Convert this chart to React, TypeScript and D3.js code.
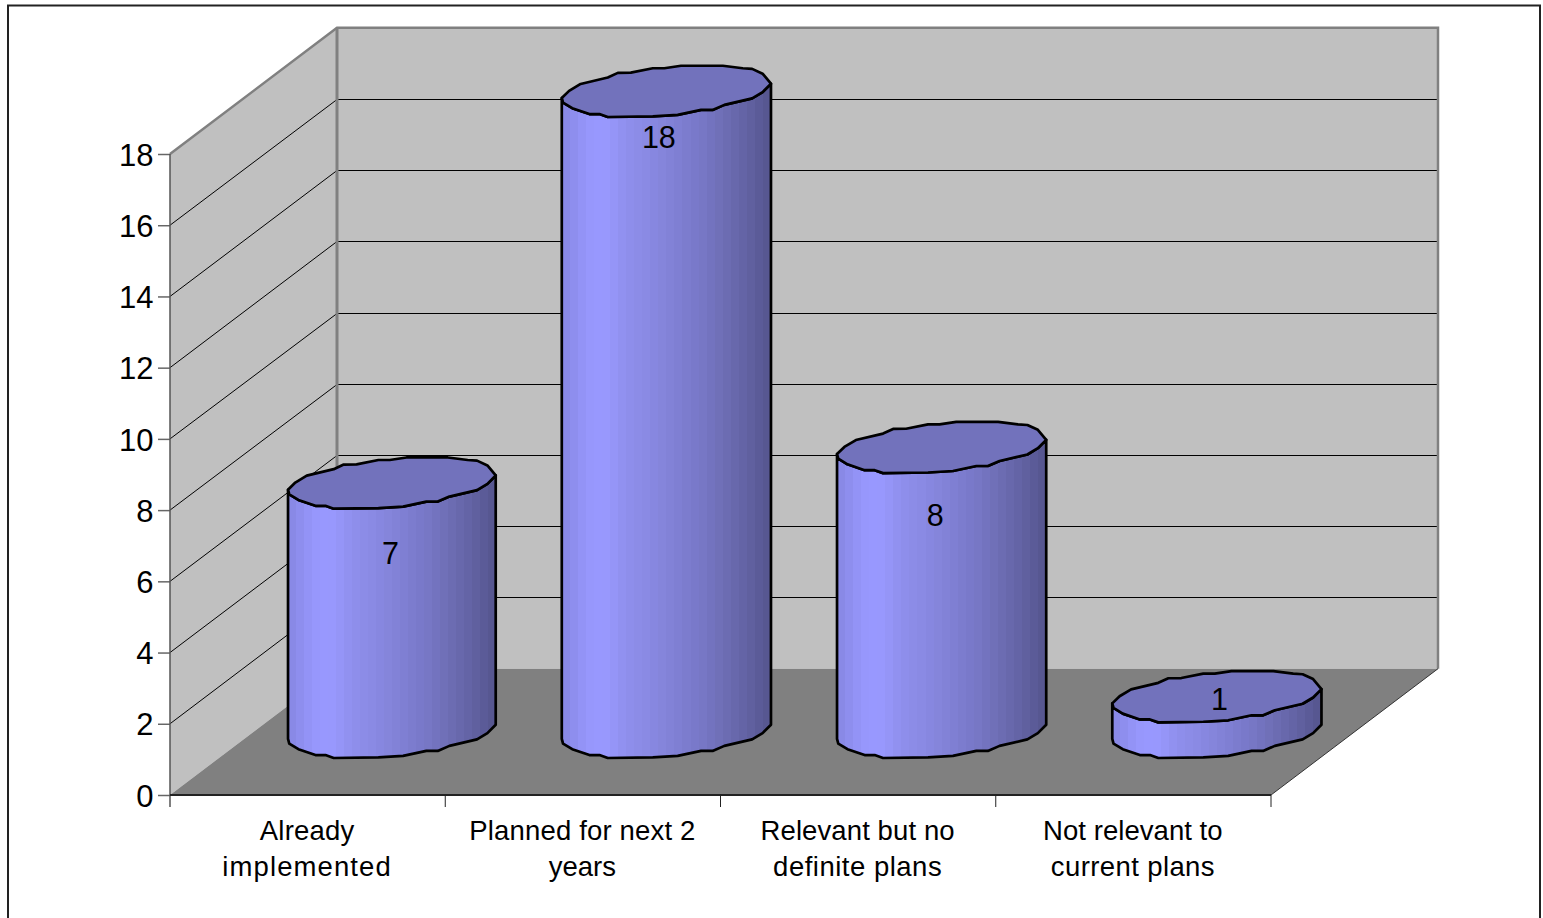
import React, { useRef, useEffect } from 'react';
import * as d3 from 'd3';

const categories = ['Already implemented', 'Planned for next 2 years', 'Relevant but no definite plans', 'Not relevant to current plans'];
const categoryLines = [
  ['Already', 'implemented'],
  ['Planned for next 2', 'years'],
  ['Relevant but no', 'definite plans'],
  ['Not relevant to', 'current plans'],
];
// the source renderer spaces some lines wider than others
const categorySpacing = [
  [0.2, 1.1],
  [0.17, 0],
  [0.1, 0.5],
  [0.05, 0.4],
];
const values = [7, 18, 8, 1];
const yTicks = [0, 2, 4, 6, 8, 10, 12, 14, 16, 18];

// where the data labels sit, relative to the middle of the bar top
const labelDx = [-1.5, -7.5, -6.5, 2.5];
const labelDy = [81, 57, 79, 14];
const barDx = [1.5, 0, 0, 0];

// outline of the bar top, in units of bar width
const rimUpper: [number, number][] = [
  [0, 0.034], [0.035, 0], [0.09, -0.033], [0.22, -0.064], [0.268, -0.086], [0.33, -0.087],
  [0.435, -0.108], [0.49, -0.108], [0.57, -0.12], [0.77, -0.12], [0.865, -0.108], [0.91, -0.105],
  [0.96, -0.082], [1, -0.034],
];
const rimLower: [number, number][] = [
  [1, -0.034], [0.96, 0.006], [0.91, 0.036], [0.777, 0.067], [0.721, 0.091], [0.666, 0.091],
  [0.554, 0.115], [0.435, 0.122], [0.22, 0.125], [0.18, 0.111], [0.132, 0.111], [0.05, 0.083],
  [0.006, 0.056], [0, 0.034],
];

// shading across the cylinder, left to right
const sideStops: [number, string][] = [
  [0, '#8686e2'], [0.06, '#8e8eee'], [0.12, '#9797fb'], [0.2, '#9999ff'], [0.3, '#9090ee'],
  [0.42, '#8989e2'], [0.55, '#8080d4'], [0.68, '#7676c4'], [0.8, '#6b6bb0'], [0.9, '#6060a0'], [1, '#55558e'],
];
const sideBands = 26;

const width = 1543;
const height = 918;
const font = '"Liberation Sans", Arial, sans-serif';
const depthX = 167;
const depthY = -126.3;

const App: React.FC = () => {
  const svgRef = useRef<SVGSVGElement | null>(null);

  useEffect(() => {
    const svg = d3.select(svgRef.current);
    svg.selectAll('*').remove();

    const yScale = d3.scaleLinear().domain([0, 18]).range([795, 154]);
    const xScale = d3.scaleBand<string>()
      .domain(categories)
      .range([170, 1271])
      .paddingInner(0.24)
      .paddingOuter(0.12);
    const step = xScale.step();
    const x0 = 170;
    const x1 = 1271;
    const y0 = yScale(0);
    const yTop = yScale(18);

    // stepped gradient, the original shades the cylinder in flat strips
    const defs = svg.append('defs');
    const grad = defs.append('linearGradient').attr('id', 'side').attr('x1', 0).attr('x2', 1).attr('y1', 0).attr('y2', 0);
    const shade = d3.scaleLinear<string>()
      .domain(sideStops.map(d => d[0]))
      .range(sideStops.map(d => d[1]));
    d3.range(sideBands).forEach(i => {
      const a = i / sideBands;
      const b = (i + 1) / sideBands;
      const c = shade((a + b) / 2);
      grad.append('stop').attr('offset', a).attr('stop-color', c);
      grad.append('stop').attr('offset', b).attr('stop-color', c);
    });

    // page frame, open at the bottom
    svg.append('path')
      .attr('d', `M8,918V5.5H1540V918`)
      .attr('fill', 'none')
      .attr('stroke', '#222')
      .attr('stroke-width', 2);

    // walls and floor
    svg.append('rect')
      .attr('x', x0 + depthX).attr('y', yTop + depthY)
      .attr('width', x1 - x0).attr('height', y0 - yTop)
      .attr('fill', '#c0c0c0');
    svg.append('path')
      .attr('d', `M${x0},${y0}L${x0},${yTop}L${x0 + depthX},${yTop + depthY}L${x0 + depthX},${y0 + depthY}Z`)
      .attr('fill', '#c0c0c0');
    svg.append('path')
      .attr('d', `M${x0},${y0}L${x1},${y0}L${x1 + depthX},${y0 + depthY}L${x0 + depthX},${y0 + depthY}Z`)
      .attr('fill', '#808080');

    // gridlines
    const grid = yTicks.filter(t => t > 0 && t < 18);
    const backY = (t: number) => Math.round(yScale(t) + depthY) + 0.5;
    svg.append('g').selectAll('path').data(grid).join('path')
      .attr('d', t => `M${x0},${yScale(t)}L${x0 + depthX},${backY(t)}L${x1 + depthX},${backY(t)}`)
      .attr('fill', 'none')
      .attr('stroke', '#000')
      .attr('stroke-width', 1);

    // wall edges
    svg.append('path')
      .attr('d', `M${x0},${yTop}L${x0 + depthX},${yTop + depthY}L${x1 + depthX},${yTop + depthY}L${x1 + depthX},${y0 + depthY}`)
      .attr('fill', 'none').attr('stroke', '#808080').attr('stroke-width', 2.5);
    svg.append('line')
      .attr('x1', x0 + depthX).attr('x2', x0 + depthX)
      .attr('y1', yTop + depthY).attr('y2', y0 + depthY)
      .attr('stroke', '#808080').attr('stroke-width', 3);
    svg.append('path')
      .attr('d', `M${x1 + depthX},${y0 + depthY}L${x1},${y0}`)
      .attr('fill', 'none').attr('stroke', '#333').attr('stroke-width', 1);

    // y axis
    const yAxis = svg.append('g')
      .attr('transform', `translate(${x0},0)`)
      .call(d3.axisLeft(yScale).tickValues(yTicks).tickSize(12).tickPadding(4.5).tickFormat(d3.format('d')) as any);
    yAxis.select('.domain').remove();
    yAxis.selectAll('line').attr('stroke', '#666').attr('stroke-width', 1.5);
    yAxis.selectAll('text')
      .attr('font-family', font).attr('font-size', 31).attr('fill', '#000').attr('dy', '0.36em');
    svg.append('line')
      .attr('x1', x0).attr('x2', x0).attr('y1', yTop).attr('y2', y0 + 12)
      .attr('stroke', '#555').attr('stroke-width', 1.5);

    // x axis
    svg.append('line')
      .attr('x1', x0).attr('x2', x1).attr('y1', y0).attr('y2', y0)
      .attr('stroke', '#222').attr('stroke-width', 2);
    svg.append('g').selectAll('line').data(d3.range(1, categories.length + 1)).join('line')
      .attr('x1', i => x0 + i * step).attr('x2', i => x0 + i * step)
      .attr('y1', y0).attr('y2', y0 + 12)
      .attr('stroke', '#222').attr('stroke-width', 1);

    const labels = svg.append('g').selectAll('text').data(categories).join('text')
      .attr('text-anchor', 'middle')
      .attr('font-family', font)
      .attr('font-size', 27.5)
      .attr('fill', '#000');
    labels.each(function (c, i) {
      const cx = (xScale(c) as number) + xScale.bandwidth() / 2 - 0.5;
      d3.select(this).selectAll('tspan').data(categoryLines[i]).join('tspan')
        .attr('x', cx)
        .attr('y', (_, j) => 840 + j * 36)
        .attr('letter-spacing', (_, j) => categorySpacing[i][j])
        .text(d => d);
    });

    // cylinders sit half way into the depth of the floor
    const bw = xScale.bandwidth();
    const line = d3.line<[number, number]>().x(d => d[0]).y(d => d[1]);
    categories.forEach((c, i) => {
      const left = (xScale(c) as number) + depthX / 2 + barDx[i];
      const right = (xScale(c) as number) + depthX / 2 + bw;
      const w = right - left;
      const top = yScale(values[i]) + depthY / 2;
      const base = y0 + depthY / 2;
      const place = (p: [number, number], cy: number): [number, number] => [left + p[0] * w, cy + p[1] * bw];

      const side = [
        ...rimLower.map(p => place(p, top)),
        ...rimLower.slice().reverse().map(p => place(p, base)),
      ];
      const g = svg.append('g');
      g.append('path')
        .attr('d', line(side) + 'Z')
        .attr('fill', 'url(#side)')
        .attr('stroke', '#000')
        .attr('stroke-width', 2.7)
        .attr('stroke-linejoin', 'round');
      g.append('path')
        .attr('d', line([...rimUpper, ...rimLower.slice(1)].map(p => place(p, top))) + 'Z')
        .attr('fill', '#7272bc')
        .attr('stroke', '#000')
        .attr('stroke-width', 2.7)
        .attr('stroke-linejoin', 'round');
      g.append('text')
        .attr('x', left + w / 2 + labelDx[i])
        .attr('y', top + labelDy[i])
        .attr('text-anchor', 'middle')
        .attr('font-family', font)
        .attr('font-size', 30.5)
        .attr('fill', '#000')
        .text(values[i]);
    });
  }, []);

  return (
    <svg
      ref={svgRef}
      width={width}
      height={height}
      style={{ position: 'absolute', left: 0, top: 0, background: '#fff', display: 'block' }}
    />
  );
};

export default App;
